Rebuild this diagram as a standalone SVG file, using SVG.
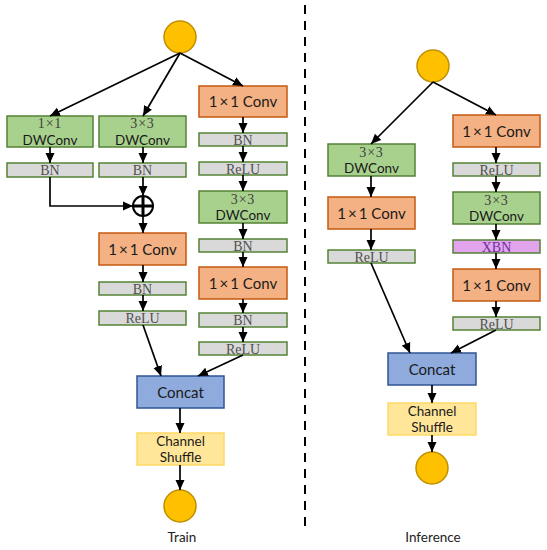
<svg xmlns="http://www.w3.org/2000/svg" width="547" height="550" viewBox="0 0 547 550">
<defs>
<marker id="ah" markerUnits="userSpaceOnUse" markerWidth="10" markerHeight="10" viewBox="0 0 10 10" refX="10" refY="5" orient="auto">
<path d="M0,0.5 L10,5 L0,9.5 z" fill="#000"/>
</marker>
</defs>
<style>
.green{fill:#A9D18E;stroke:#548235;stroke-width:1.5}
.orange{fill:#F4B183;stroke:#C55A11;stroke-width:1.5}
.gray{fill:#D9D9D9;stroke:#548235;stroke-width:1.5}
.xbn{fill:#E2A4EC;stroke:#548235;stroke-width:1.5}
.concat{fill:#8FAADC;stroke:#2F5597;stroke-width:1.5}
.shuffle{fill:#FFE699;stroke:#FFD966;stroke-width:1.5}
.io{fill:#FFC000;stroke:#BF9000;stroke-width:1.5}
.sans{font-family:Lato,"Liberation Sans",sans-serif;font-size:15px;fill:#1a1a1a;text-anchor:middle}
.sans2{font-family:Lato,"Liberation Sans",sans-serif;font-size:13.5px;fill:#1a1a1a;text-anchor:middle}
.serif{font-family:"Liberation Serif",serif;font-size:14px;fill:#404040;text-anchor:middle;letter-spacing:0.8px}
.small{font-family:"Liberation Serif",serif;font-size:14px;fill:#505050;text-anchor:middle}
.lbl{font-family:Lato,"Liberation Sans",sans-serif;font-size:13.5px;fill:#222;text-anchor:middle}
.conn line,.conn polyline{stroke:#000;stroke-width:1.7;fill:none;marker-end:url(#ah)}
</style>

<line x1="305" y1="5" x2="305" y2="530" stroke="#000" stroke-width="2" stroke-dasharray="9,7"/>

<!-- TRAIN -->
<g id="t_in"><circle class="io" cx="180" cy="37" r="16"/></g>

<g id="t_dw1"><rect class="green" x="7" y="116" width="86" height="31"/><text class="serif" x="50" y="128">1×1</text><text class="sans2" x="50" y="144.5">DWConv</text></g>
<g id="t_bn1"><rect class="gray" x="7" y="163" width="86" height="14"/><text class="small" x="50" y="175">BN</text></g>

<g id="t_dw3"><rect class="green" x="99" y="116" width="87" height="31"/><text class="serif" x="142.5" y="128">3×3</text><text class="sans2" x="142.5" y="144.5">DWConv</text></g>
<g id="t_bn2"><rect class="gray" x="99" y="163" width="87" height="14"/><text class="small" x="142.5" y="175">BN</text></g>

<g id="t_add">
<circle cx="143" cy="206" r="10" fill="#fff" stroke="#000" stroke-width="2"/>
<line x1="133" y1="206" x2="153" y2="206" stroke="#000" stroke-width="3"/>
<line x1="143" y1="196" x2="143" y2="216" stroke="#000" stroke-width="3"/>
</g>

<g id="t_conv_m"><rect class="orange" x="99" y="233" width="87" height="32"/><text class="sans" x="142.5" y="254.5">1<tspan dx="2">×</tspan><tspan dx="2">1 Conv</tspan></text></g>
<g id="t_bn_m"><rect class="gray" x="99" y="282" width="87" height="13"/><text class="small" x="142.5" y="293.5">BN</text></g>
<g id="t_relu_m"><rect class="gray" x="99" y="311" width="87" height="14"/><text class="small" x="142.5" y="323">ReLU</text></g>

<g id="t_conv_r1"><rect class="orange" x="199" y="86" width="88" height="31"/><text class="sans" x="243" y="107">1<tspan dx="2">×</tspan><tspan dx="2">1 Conv</tspan></text></g>
<g id="t_bn_r1"><rect class="gray" x="199" y="133" width="88" height="13"/><text class="small" x="243" y="144.5">BN</text></g>
<g id="t_relu_r1"><rect class="gray" x="199" y="162" width="88" height="13"/><text class="small" x="243" y="173.5">ReLU</text></g>
<g id="t_dw_r"><rect class="green" x="199" y="191" width="88" height="32"/><text class="serif" x="243" y="203.5">3×3</text><text class="sans2" x="243" y="220">DWConv</text></g>
<g id="t_bn_r2"><rect class="gray" x="199" y="239" width="88" height="13"/><text class="small" x="243" y="250.5">BN</text></g>
<g id="t_conv_r2"><rect class="orange" x="199" y="267" width="88" height="32"/><text class="sans" x="243" y="288.5">1<tspan dx="2">×</tspan><tspan dx="2">1 Conv</tspan></text></g>
<g id="t_bn_r3"><rect class="gray" x="199" y="313" width="88" height="14"/><text class="small" x="243" y="325">BN</text></g>
<g id="t_relu_r2"><rect class="gray" x="199" y="342" width="88" height="13"/><text class="small" x="243" y="353.5">ReLU</text></g>

<g id="t_concat"><rect class="concat" x="137" y="376" width="87" height="32"/><text class="sans" x="180.5" y="397.5">Concat</text></g>
<g id="t_shuffle"><rect class="shuffle" x="137" y="433" width="87" height="32"/><text class="sans2" x="180.5" y="446">Channel</text><text class="sans2" x="180.5" y="462">Shuffle</text></g>
<g id="t_out"><circle class="io" cx="180" cy="506" r="16"/></g>
<text class="lbl" x="182" y="542">Train</text>

<!-- INFERENCE -->
<g id="i_in"><circle class="io" cx="433" cy="66" r="16"/></g>
<g id="i_dw_l"><rect class="green" x="328" y="144" width="87" height="32"/><text class="serif" x="371.5" y="156.5">3×3</text><text class="sans2" x="371.5" y="173">DWConv</text></g>
<g id="i_conv_l"><rect class="orange" x="328" y="197" width="87" height="32"/><text class="sans" x="371.5" y="218.5">1<tspan dx="2">×</tspan><tspan dx="2">1 Conv</tspan></text></g>
<g id="i_relu_l"><rect class="gray" x="328" y="250" width="87" height="13"/><text class="small" x="371.5" y="261.5">ReLU</text></g>

<g id="i_conv_r1"><rect class="orange" x="453" y="115" width="87" height="32"/><text class="sans" x="496.5" y="136.5">1<tspan dx="2">×</tspan><tspan dx="2">1 Conv</tspan></text></g>
<g id="i_relu_r1"><rect class="gray" x="453" y="163" width="87" height="13"/><text class="small" x="496.5" y="174.5">ReLU</text></g>
<g id="i_dw_r"><rect class="green" x="453" y="192" width="87" height="32"/><text class="serif" x="496.5" y="204.5">3×3</text><text class="sans2" x="496.5" y="221">DWConv</text></g>
<g id="i_xbn"><rect class="xbn" x="453" y="240" width="87" height="13"/><text class="small" x="496.5" y="251.5" style="fill:#7030A0">XBN</text></g>
<g id="i_conv_r2"><rect class="orange" x="453" y="269" width="87" height="32"/><text class="sans" x="496.5" y="290.5">1<tspan dx="2">×</tspan><tspan dx="2">1 Conv</tspan></text></g>
<g id="i_relu_r2"><rect class="gray" x="453" y="317" width="87" height="13"/><text class="small" x="496.5" y="328.5">ReLU</text></g>

<g id="i_concat"><rect class="concat" x="388" y="353" width="88" height="32"/><text class="sans" x="432" y="374.5">Concat</text></g>
<g id="i_shuffle"><rect class="shuffle" x="388" y="403" width="88" height="32"/><text class="sans2" x="432" y="416">Channel</text><text class="sans2" x="432" y="432">Shuffle</text></g>
<g id="i_out"><circle class="io" cx="432" cy="468" r="16"/></g>
<text class="lbl" x="433" y="542">Inference</text>

<g id="connectors" class="conn">
<line x1="180" y1="53" x2="50" y2="116"/>
<line x1="180" y1="53" x2="143" y2="116"/>
<line x1="180" y1="53" x2="243" y2="86"/>
<line x1="50" y1="147" x2="50" y2="163"/>
<line x1="143" y1="147" x2="143" y2="163"/>
<polyline points="50,177 50,206 133,206"/>
<line x1="143" y1="177" x2="143" y2="196"/>
<line x1="143" y1="216" x2="143" y2="233"/>
<line x1="143" y1="265" x2="143" y2="282"/>
<line x1="143" y1="295" x2="143" y2="311"/>
<line x1="143" y1="325" x2="161" y2="376"/>
<line x1="243" y1="355" x2="198" y2="376"/>
<line x1="243" y1="117" x2="243" y2="133"/>
<line x1="243" y1="146" x2="243" y2="162"/>
<line x1="243" y1="175" x2="243" y2="191"/>
<line x1="243" y1="223" x2="243" y2="239"/>
<line x1="243" y1="252" x2="243" y2="267"/>
<line x1="243" y1="299" x2="243" y2="313"/>
<line x1="243" y1="327" x2="243" y2="342"/>
<line x1="180" y1="408" x2="180" y2="433"/>
<line x1="180" y1="465" x2="180" y2="490"/>

<line x1="433" y1="82" x2="371" y2="144"/>
<line x1="433" y1="82" x2="496" y2="115"/>
<line x1="371" y1="176" x2="371" y2="197"/>
<line x1="371" y1="229" x2="371" y2="250"/>
<line x1="371" y1="263" x2="410" y2="353"/>
<line x1="496" y1="147" x2="496" y2="163"/>
<line x1="496" y1="176" x2="496" y2="192"/>
<line x1="496" y1="224" x2="496" y2="240"/>
<line x1="496" y1="253" x2="496" y2="269"/>
<line x1="496" y1="301" x2="496" y2="317"/>
<line x1="496" y1="330" x2="451" y2="353"/>
<line x1="432" y1="385" x2="432" y2="403"/>
<line x1="432" y1="435" x2="432" y2="452"/>
</g>
</svg>
